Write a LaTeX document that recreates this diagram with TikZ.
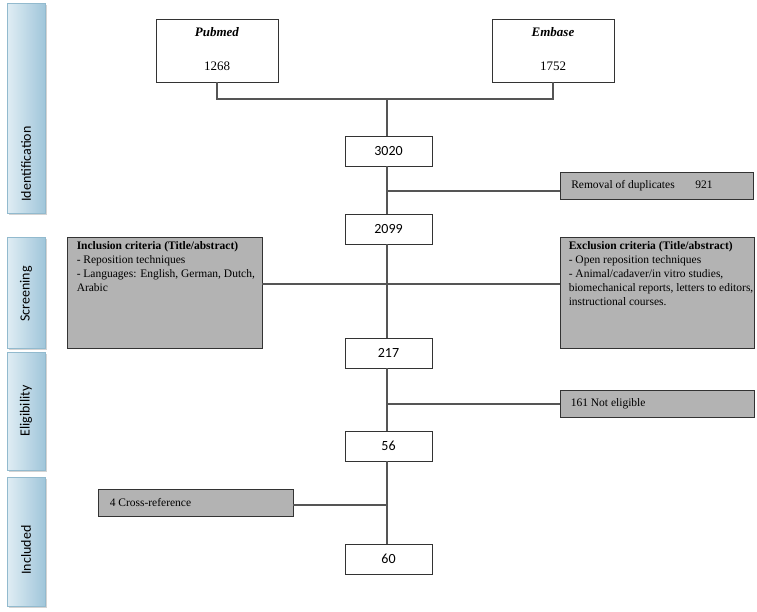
\documentclass[tikz,border=0pt]{standalone}
\usepackage{fontspec}
\setmainfont{Liberation Serif}
\newfontfamily\calibrifont{Carlito}
\usetikzlibrary{shapes,arrows,shadows}
\definecolor{boxgray}{RGB}{179,179,179}
\definecolor{linegray}{RGB}{85,85,85}
\definecolor{phaselight}{RGB}{224,237,244}
\definecolor{phasedark}{RGB}{160,198,218}
\definecolor{phaseedge}{RGB}{146,186,206}
\tikzstyle{line} = [draw, linegray, line width=1.1pt]
\tikzstyle{countbox} = [draw=black!80, fill=white, line width=0.9pt, minimum width=87pt, minimum height=30pt, inner sep=0pt, font=\calibrifont\fontsize{14}{16}\selectfont]
\tikzstyle{sourcebox} = [draw=black!80, fill=white, line width=0.9pt, minimum width=122pt, minimum height=63pt, align=center, font=\fontsize{13}{14}\selectfont]
\tikzstyle{graybox} = [draw=black!80, fill=boxgray, line width=0.9pt, inner sep=0pt]
\tikzstyle{boxtext} = [align=left, inner sep=0pt, font=\fontsize{11.5}{14}\selectfont]
\tikzstyle{phasebox} = [draw=phaseedge, left color=phaselight, right color=phasedark, minimum width=38pt, inner sep=0pt, drop shadow={shadow xshift=2pt, shadow yshift=-2pt, opacity=0.35}]
\tikzstyle{phasetext} = [rotate=90, inner sep=0pt, font=\calibrifont\fontsize{14}{16}\selectfont]

\begin{document}
\begin{tikzpicture}[x=1pt,y=-1pt]
  \useasboundingbox (0,0) rectangle (757,611);

  % phases on the left
  \node[phasebox, minimum height=210pt] (phid) at (26,108) {};
  \node[phasebox, minimum height=111pt] (phscr) at (26,292.5) {};
  \node[phasebox, minimum height=118pt] (phel) at (26,411) {};
  \node[phasebox, minimum height=129pt] (phinc) at (26,541.5) {};
  \node[phasetext] (tid) at (26,164) {Identification};
  \node[phasetext] (tscr) at (26,294) {Screening};
  \node[phasetext] (tel) at (26,411) {Eligibility};
  \node[phasetext] (tinc) at (26,550) {Included};

  % databases
  \node[sourcebox] (pubmed) at (217,50.5) {\mbox{}\\[-7pt]\textbf{\textit{Pubmed}}\\[20pt]1268};
  \node[sourcebox] (embase) at (553,50.5) {\mbox{}\\[-7pt]\textbf{\textit{Embase}}\\[20pt]1752};

  % counts
  \node[countbox] (n3020) at (388.5,151) {3020};
  \node[countbox] (n2099) at (388.5,229) {2099};
  \node[countbox] (n217) at (388.5,353) {217};
  \node[countbox] (n56) at (388.5,446) {56};
  \node[countbox] (n60) at (388.5,559) {60};

  % side boxes
  \node[graybox, minimum width=193pt, minimum height=27pt] (dupl) at (657,185.5) {};
  \node[boxtext, anchor=west] (tdupl) at ([xshift=11pt]dupl.west) {Removal of duplicates\hspace{1.8em}921};
  \node[graybox, minimum width=195pt, minimum height=111pt] (inclcrit) at (164.5,292.5) {};
  \node[boxtext, anchor=north west] (tinclcrit) at ([xshift=10pt,yshift=-5pt]inclcrit.north west)
    {\textbf{Inclusion criteria (Title/abstract)}\\- Reposition techniques\\- Languages: English, German, Dutch,\\Arabic};
  \node[graybox, minimum width=194pt, minimum height=111pt] (exclcrit) at (657,292.5) {};
  \node[boxtext, anchor=north west] (texclcrit) at ([xshift=9pt,yshift=-5pt]exclcrit.north west)
    {\textbf{Exclusion criteria (Title/abstract)}\\- Open reposition techniques\\- Animal/cadaver/in vitro studies,\\biomechanical reports, letters to editors,\\instructional courses.};
  \node[graybox, minimum width=194pt, minimum height=27pt] (noteli) at (657,404) {};
  \node[boxtext, anchor=west] (tnoteli) at ([xshift=11pt]noteli.west) {161 Not eligible};
  \node[graybox, minimum width=195pt, minimum height=27pt] (xref) at (195.5,502.5) {};
  \node[boxtext, anchor=west] (txref) at ([xshift=12pt]xref.west) {4 Cross-reference};

  % connectors
  \coordinate (join) at (387,99);
  \coordinate (dup) at (387,191);
  \coordinate (crit) at (387,284);
  \coordinate (elig) at (387,404);
  \coordinate (cross) at (387,505);
  \draw[line] (pubmed.south) -- (pubmed.south |- join) -- (embase.south |- join) -- (embase.south);
  \draw[line] (join) -- (n3020.north -| join);
  \draw[line] (n3020.south -| join) -- (n2099.north -| join);
  \draw[line] (dup) -- (dup -| dupl.west);
  \draw[line] (n2099.south -| join) -- (n217.north -| join);
  \draw[line] (inclcrit.east |- crit) -- (exclcrit.west |- crit);
  \draw[line] (n217.south -| join) -- (n56.north -| join);
  \draw[line] (elig) -- (elig -| noteli.west);
  \draw[line] (n56.south -| join) -- (n60.north -| join);
  \draw[line] (cross) -- (cross -| xref.east);
\end{tikzpicture}
\end{document}
